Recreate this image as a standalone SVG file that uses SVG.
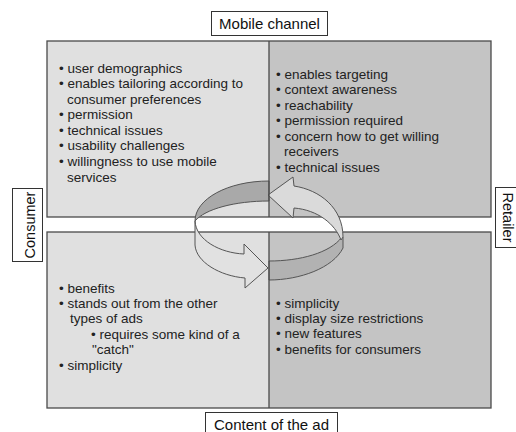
<svg xmlns="http://www.w3.org/2000/svg" width="516" height="432" viewBox="0 0 516 432">
  <style>
    .panel-l { fill: #e0e0e0; }
    .panel-r { fill: #c4c4c4; }
    .frame { fill: none; stroke: #4a4a4a; stroke-width: 1.3; }
    .label-box { fill: #ffffff; stroke: #333333; stroke-width: 1; }
    .label { font-family: "Liberation Sans", Arial, sans-serif; font-size: 15px; fill: #111111; }
    .side { font-size: 14.5px; }
    .body { font-family: "Liberation Sans", Arial, sans-serif; font-size: 13.5px; fill: #222222; }
    .ring { stroke: #555555; stroke-width: 1; stroke-linejoin: round; }
  </style>

  <rect width="516" height="432" fill="#ffffff"/>

  <!-- quadrant: consumer / mobile channel -->
  <g id="q-consumer-channel">
    <rect class="panel-l" x="47" y="41" width="222" height="176"/>
    <text class="body" x="59" y="72.5">• user demographics</text>
    <text class="body" x="59" y="88.1">• enables tailoring according to</text>
    <text class="body" x="67" y="103.6">consumer preferences</text>
    <text class="body" x="59" y="119.2">• permission</text>
    <text class="body" x="59" y="134.8">• technical issues</text>
    <text class="body" x="59" y="150.4">• usability challenges</text>
    <text class="body" x="59" y="165.9">• willingness to use mobile</text>
    <text class="body" x="67" y="181.5">services</text>
  </g>

  <!-- quadrant: retailer / mobile channel -->
  <g id="q-retailer-channel">
    <rect class="panel-r" x="269" y="41" width="222" height="176"/>
    <text class="body" x="276" y="78.5">• enables targeting</text>
    <text class="body" x="276" y="94">• context awareness</text>
    <text class="body" x="276" y="109.5">• reachability</text>
    <text class="body" x="276" y="125">• permission required</text>
    <text class="body" x="276" y="140.5">• concern how to get willing</text>
    <text class="body" x="284" y="156">receivers</text>
    <text class="body" x="276" y="171.5">• technical issues</text>
  </g>

  <!-- quadrant: consumer / content -->
  <g id="q-consumer-content">
    <rect class="panel-l" x="47" y="232" width="222" height="176"/>
    <text class="body" x="59" y="292.5">• benefits</text>
    <text class="body" x="59" y="307.9">• stands out from the other</text>
    <text class="body" x="70" y="323.3">types of ads</text>
    <text class="body" x="91" y="338.7">• requires some kind of a</text>
    <text class="body" x="92" y="354.1">"catch"</text>
    <text class="body" x="59" y="369.5">• simplicity</text>
  </g>

  <!-- quadrant: retailer / content -->
  <g id="q-retailer-content">
    <rect class="panel-r" x="269" y="232" width="222" height="176"/>
    <text class="body" x="276" y="307.5">• simplicity</text>
    <text class="body" x="276" y="322.9">• display size restrictions</text>
    <text class="body" x="276" y="338.3">• new features</text>
    <text class="body" x="276" y="353.7">• benefits for consumers</text>
  </g>

  <!-- panel outlines -->
  <g id="frames">
    <rect class="frame" x="47" y="41" width="444" height="176"/>
    <rect class="frame" x="47" y="232" width="444" height="176"/>
  </g>

  <!-- circular two-way arrow between the quadrants -->
  <g id="connectors">
    <!-- back wall of the ring -->
    <path class="ring" fill="#a9a9a9" d="M269,181 C228,181 195,199 195,221 C205,209 235,201 269,201 Z"/>
    <!-- front-left arrow pointing right -->
    <path class="ring" fill="#e1e1e1" d="M195,221 C196,240 220,253 244,254 L244,244 L268,268 L245,288 L245,278 C220,276 196,262 195,245 Z"/>
    <!-- front-right wall -->
    <path class="ring" fill="#b2b2b2" d="M269,261 C300,261 330,253 342,237 L343,237 L343,248 C333,268 300,280 269,280 Z"/>
    <!-- upper-right arrow pointing left -->
    <path class="ring" fill="#dadada" d="M268,195 L293,177 L294,186 C320,190 343,208 343,237 L341,240 C335,224 318,210 294,208 L293,218 Z"/>
  </g>

  <!-- centre divider -->
  <g id="dividers" stroke="#4a4a4a" stroke-width="1.3">
    <line x1="269" y1="41" x2="269" y2="217"/>
    <line x1="269" y1="232" x2="269" y2="408"/>
  </g>

  <!-- axis labels -->
  <g id="label-mobile-channel">
    <rect class="label-box" x="211.5" y="11.5" width="116" height="24"/>
    <text class="label" x="269.5" y="28.8" text-anchor="middle">Mobile channel</text>
  </g>
  <g id="label-content">
    <rect class="label-box" x="205.5" y="412.5" width="132" height="24"/>
    <text class="label" x="271.5" y="429.8" text-anchor="middle">Content of the ad</text>
  </g>
  <g id="label-consumer">
    <rect class="label-box" x="12.5" y="188.5" width="30" height="73"/>
    <text class="label side" transform="translate(34.5,225) rotate(-90)" text-anchor="middle">Consumer</text>
  </g>
  <g id="label-retailer">
    <rect class="label-box" x="495.5" y="187.5" width="24" height="60"/>
    <text class="label side" transform="translate(503,217.5) rotate(90)" text-anchor="middle">Retailer</text>
  </g>
</svg>
